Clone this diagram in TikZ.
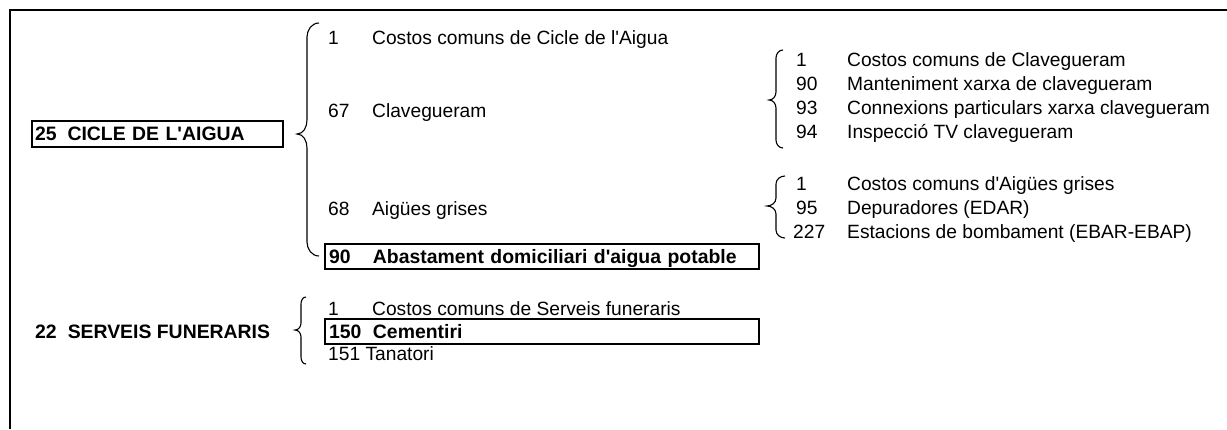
\documentclass[tikz,border=0pt]{standalone}
\usepackage{fontspec}
\setmainfont{Liberation Sans}[Ligatures=TeXOff]
\newcommand\curlybr[7]{% xtip xline xend ytop ymid ybot r
  \draw[bracestyle] (#3,#4) to[out=180,in=90] (#2,{#4+#7}) -- (#2,{#5-#7})
    to[out=-90,in=0] (#1,#5) to[out=0,in=90] (#2,{#5+#7}) -- (#2,{#6-#7})
    to[out=-90,in=180] (#3,#6);}
\begin{document}
\begin{tikzpicture}[x=1pt,y=-1pt,
  every node/.style={inner sep=0pt, font=\fontsize{19.2}{23}\selectfont},
  row/.style={anchor=base west},
  boxed/.style={draw, line width=2pt, anchor=north west, inner xsep=4pt,
    text height=13.6pt, text depth=0pt, align=left,
    font=\fontsize{19.4}{23}\selectfont\bfseries},
  bracestyle/.style={line width=1.1pt},
  framestyle/.style={line width=1.4pt}]
\useasboundingbox (0,0) rectangle (1227,429);
\draw[framestyle] (10,429) -- (10,10) -- (1227,10);

% level 0
\node[boxed, text width=245pt, inner xsep=3pt, minimum height=26pt] (c25) at (31,120)
  {25\hspace{11pt}CICLE DE L'AIGUA};
\node[row, font=\fontsize{19.4}{23}\selectfont\bfseries] (s22) at (35,338)
  {22\hspace{11pt}SERVEIS FUNERARIS};

% level 1
\curlybr{297}{307}{319}{23}{134}{256}{14}
\node[row] (r1) at (328,44) {\makebox[44pt][l]{1}Costos comuns de Cicle de l'Aigua};
\node[row] (r67) at (328,117) {\makebox[44pt][l]{67}Clavegueram};
\node[row] (r68) at (328,215) {\makebox[44pt][l]{68}Aigües grises};
\node[boxed, text width=426pt, minimum height=25pt] (r90) at (324,243)
  {\makebox[44pt][l]{90}Abastament domiciliari d'aigua potable};

% level 2: clavegueram
\curlybr{769}{776}{783}{50}{100}{148}{8}
\node[row] (k1) at (796,66) {\makebox[51pt][l]{1}Costos comuns de Clavegueram};
\node[row] (k90) at (796,90) {\makebox[51pt][l]{90}Manteniment xarxa de clavegueram};
\node[row] (k93) at (796,114) {\makebox[51pt][l]{93}Connexions particulars xarxa clavegueram};
\node[row] (k94) at (796,138) {\makebox[51pt][l]{94}Inspecció TV clavegueram};

% level 2: aigues grises
\curlybr{767}{776}{785}{176}{206}{238}{8}
\node[row] (g1) at (796,190) {\makebox[51pt][l]{1}Costos comuns d'Aigües grises};
\node[row] (g95) at (796,214) {\makebox[51pt][l]{95}Depuradores (EDAR)};
\node[row] (g227) at (793,238) {\makebox[54pt][l]{227}Estacions de bombament (EBAR-EBAP)};

% funeraris
\curlybr{295}{301}{306}{297}{330}{364}{7}
\node[row] (f1) at (328,315) {\makebox[44pt][l]{1}Costos comuns de Serveis funeraris};
\node[boxed, text width=426pt, minimum height=25pt] (f150) at (324,318)
  {\makebox[44pt][l]{150}Cementiri};
\node[row] (f151) at (328,360) {151 Tanatori};
\end{tikzpicture}
\end{document}
